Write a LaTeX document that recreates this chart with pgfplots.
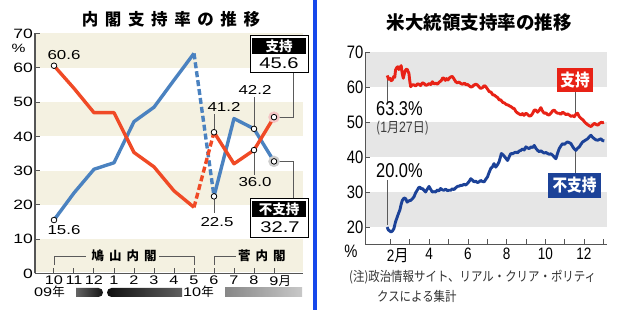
\documentclass[border=0pt]{standalone}
\usepackage{fontspec}
\usepackage{pgfplots}
\pgfplotsset{compat=1.18}
\setmainfont{Liberation Sans}
\newfontfamily\lfont[FakeStretch=1.3]{Liberation Sans}
\newfontfamily\rfont[FakeStretch=0.82]{Liberation Sans}
\newfontfamily\cjk{Noto Sans CJK JP}
\newfontfamily\cjkn[FakeStretch=0.86]{Noto Sans CJK JP}
\newfontfamily\cjksp[LetterSpace=40]{Noto Sans CJK JP}
\newfontfamily\cjkspb[LetterSpace=40]{Noto Sans CJK JP}
\newcommand{\Lf}[1]{\fontsize{#1}{#1}\selectfont\lfont}
\newcommand{\Rf}[1]{\fontsize{#1}{#1}\selectfont\rfont}
\newcommand{\Cf}[1]{\fontsize{#1}{#1}\selectfont\cjk}
\newcommand{\Cn}[1]{\fontsize{#1}{#1}\selectfont\cjkn}
\definecolor{lred}{RGB}{240,74,38}
\definecolor{lblue}{RGB}{74,130,192}
\definecolor{beige}{RGB}{244,241,225}
\definecolor{rred}{RGB}{232,34,22}
\definecolor{rblue}{RGB}{28,66,152}
\definecolor{band}{RGB}{230,230,230}
\definecolor{sep}{RGB}{22,72,235}
\definecolor{axgray}{RGB}{85,85,85}
\definecolor{lead}{RGB}{90,90,90}
\definecolor{halopink}{RGB}{246,196,196}
\definecolor{halogray}{RGB}{205,205,205}
\begin{document}
\begin{tikzpicture}[x=1pt,y=1pt]
\path[use as bounding box] (0,0) rectangle (630,310);
\fill[white] (0,0) rectangle (630,310);

% ================= LEFT CHART =================
\begin{axis}[
 at={(35pt,36.5pt)}, anchor=south west, scale only axis,
 width=268pt, height=240pt,
 xmin=-0.95, xmax=12.45, ymin=0, ymax=70,
 axis x line*=bottom, axis y line*=left,
 axis line style={-, draw=axgray, line width=1.3pt},
 axis on top,
 xtick={0,...,11},
 xticklabels={10,11,12,1,2,3,4,5,6,7,8,9\rlap{\cjk 月}},
 ytick={0,10,20,30,40,50,60,70},
 yticklabels={0,10,20,30,40,50,60,70},
 tick align=inside, major tick length=5pt,
 tick style={axgray, line width=1pt},
 xticklabel style={font=\Lf{12.5}, inner sep=2pt},
 yticklabel style={font=\Lf{13.5}, inner sep=2pt},
 clip=false,
]
\fill[beige] (axis cs:-0.9,0.4) rectangle (axis cs:12.45,10);
\fill[beige] (axis cs:-0.9,20) rectangle (axis cs:12.45,30);
\fill[beige] (axis cs:-0.9,40) rectangle (axis cs:12.45,50);
\fill[beige] (axis cs:-0.9,60) rectangle (axis cs:12.45,70);
% leaders
\draw[lead, line width=0.8pt] (axis cs:8,41.2) -- (axis cs:8,46.4);
\draw[lead, line width=0.8pt] (axis cs:8,22.5) -- (axis cs:8,17.6);
\draw[lead, line width=0.8pt] (axis cs:10,42.2) -- (axis cs:10,51.5);
\draw[lead, line width=0.8pt] (axis cs:10,36.0) -- (axis cs:10,28.6);
\draw[lead, line width=0.8pt] (axis cs:11,45.6) -- (axis cs:11.95,45.6) -- (axis cs:11.95,58.7);
\draw[lead, line width=0.8pt] (axis cs:11,32.7) -- (axis cs:11.95,32.7) -- (axis cs:11.95,22.0);
% blue (disapproval)
\addplot[lblue, line width=3.4pt, line join=round] coordinates {(0,15.6)(1,23.5)(2,30.4)(3,32.3)(4,44.3)(5,48.5)(6,56.4)(7,64.2)};
\addplot[lblue, line width=3.4pt, dash pattern=on 6pt off 3pt] coordinates {(7,64.2)(8,22.5)};
\addplot[lblue, line width=3.4pt, line join=round] coordinates {(8,22.5)(9,45.2)(10,42.2)(11,32.7)};
% red (approval)
\addplot[lred, line width=3.4pt, line join=round] coordinates {(0,60.6)(1,54.0)(2,46.9)(3,46.9)(4,35.3)(5,31.1)(6,24.1)(7,19.3)};
\addplot[lred, line width=3.4pt, dash pattern=on 6pt off 3pt] coordinates {(7,19.3)(8,41.2)};
\addplot[lred, line width=3.4pt, line join=round] coordinates {(8,41.2)(9,32.0)(10,36.0)(11,45.6)};
% halos
\addplot[halopink, only marks, mark=*, mark size=5.5pt] coordinates {(11,45.6)};
\addplot[halogray, only marks, mark=*, mark size=5.5pt] coordinates {(11,32.7)};
% markers
\addplot[black, only marks, mark=*, mark size=2.8pt, mark options={fill=white, draw=black, line width=0.8pt}] coordinates {(0,60.6)(8,41.2)(10,36.0)(11,45.6)};
\addplot[black, only marks, mark=*, mark size=2.8pt, mark options={fill=white, draw=black, line width=0.8pt}] coordinates {(0,15.6)(8,22.5)(10,42.2)(11,32.7)};
% value labels
\node[font=\Lf{13}] at (axis cs:0.5,63.6) {60.6};
\node[font=\Lf{13}] at (axis cs:0.5,12.7) {15.6};
\node[font=\Lf{13}] at (axis cs:8.5,48.6) {41.2};
\node[font=\Lf{13}] at (axis cs:8.15,15.1) {22.5};
\node[font=\Lf{13}] at (axis cs:10.05,53.6) {42.2};
\node[font=\Lf{13}] at (axis cs:10.05,26.6) {36.0};
\end{axis}

% left title
\node[font={\fontsize{16.5}{16.5}\selectfont\cjksp\bfseries}] at (171,291) {内閣支持率の推移};
% percent sign
\node[font=\Lf{12}] at (18.5,262) {\%};
% approval box
\draw[black, line width=0.8pt, fill=white] (250,238) rectangle (308,275);
\fill[black] (252,256) rectangle (306,272);
\node[text=white, font={\Cf{13.5}\bfseries}] at (279,264) {支持};
\node[font=\Lf{15.5}] at (279,247) {45.6};
% disapproval box
\draw[black, line width=0.8pt, fill=white] (250,73) rectangle (308,112);
\fill[black] (252,93) rectangle (306,109);
\node[text=white, font={\Cf{13.5}\bfseries}] at (279,101) {不支持};
\node[font=\Lf{15.5}] at (280,83) {32.7};
% cabinet brackets
\draw[lead, line width=0.9pt] (54,45) -- (54,54) -- (86,54);
\draw[lead, line width=0.9pt] (159,54) -- (194,54) -- (194,45);
\node[font={\fontsize{12.5}{12.5}\selectfont\cjkspb\bfseries}, inner sep=0] at (124,54) {鳩山内閣};
\draw[lead, line width=0.9pt] (214,45) -- (214,54) -- (236,54);
\node[font={\fontsize{12.5}{12.5}\selectfont\cjkspb\bfseries}, inner sep=0, anchor=west] at (238,54) {菅内閣};
% year bars
\node[anchor=west, inner sep=0] at (34,18) {{\Lf{12.5}09}{\Cf{12.5}年}};
\node[anchor=west, inner sep=0] at (183,18) {{\Lf{12.5}10}{\Cf{12.5}年}};
\shade[left color={rgb,255:red,100;green,100;blue,100}, right color={rgb,255:red,20;green,20;blue,20}] (76,13) -- (98.5,13) arc[start angle=-90, end angle=90, radius=4.5] -- (76,22) -- cycle;
\shade[left color={rgb,255:red,15;green,15;blue,15}, right color={rgb,255:red,95;green,95;blue,95}] (111.5,13) -- (182,13) -- (182,22) -- (111.5,22) arc[start angle=90, end angle=270, radius=4.5] -- cycle;
\shade[left color={rgb,255:red,135;green,135;blue,135}, right color={rgb,255:red,200;green,200;blue,200}] (225,13) rectangle (302,22);

% separator
\fill[sep] (313,0) rectangle (317,310);

% ================= RIGHT CHART =================
\begin{axis}[
 at={(365pt,65.5pt)}, anchor=south west, scale only axis,
 width=242pt, height=192.5pt,
 xmin=0.68, xmax=13.19, ymin=15, ymax=70,
 axis x line*=bottom, axis y line*=left,
 axis line style={-, draw=axgray, line width=1pt},
 axis on top,
 xtick={2,...,13},
 xticklabels={2\rlap{\cjkn 月},,4,,6,,8,,10,,12,},
 ytick={20,30,40,50,60,70},
 yticklabels={20,30,40,50,60,70},
 tick align=inside, major tick length=5pt,
 tick style={axgray, line width=0.8pt},
 xticklabel style={font=\Rf{16.5}},
 yticklabel style={font=\Rf{18}, inner sep=1.5pt},
 clip=false,
]
\fill[band] (axis cs:0.72,20) rectangle (axis cs:13.19,30);
\fill[band] (axis cs:0.72,40) rectangle (axis cs:13.19,50);
\fill[band] (axis cs:0.72,60) rectangle (axis cs:13.19,70);
% leaders
\draw[lead, line width=0.7pt] (axis cs:1.83,62.8) -- (axis cs:1.83,55.8);
\draw[lead, line width=0.7pt] (axis cs:1.83,20.5) -- (axis cs:1.83,33.4);
\draw[lead, line width=0.7pt] (axis cs:11.53,52.0) -- (axis cs:11.53,58.6);
\draw[lead, line width=0.7pt] (axis cs:11.53,42.0) -- (axis cs:11.53,35.4);
% approval
\addplot[rred, line width=2.9pt, line join=round] coordinates {
(1.83,63.3)(1.90,62.2)(1.97,62.5)(2.03,61.8)(2.09,62.0)(2.17,63.0)(2.22,62.8)(2.26,64.9)(2.32,65.5)(2.38,65.8)(2.43,65.0)(2.48,65.5)(2.55,66.1)(2.60,64.0)(2.66,62.5)(2.70,63.5)(2.74,64.4)(2.80,65.0)(2.86,65.1)(2.90,64.5)(2.95,63.9)(3.00,61.5)(3.04,60.1)(3.12,60.6)(3.21,60.6)(3.30,60.3)(3.40,60.9)(3.47,60.8)(3.55,60.4)(3.65,61.2)(3.73,61.0)(3.82,60.5)(3.90,60.6)(4.00,61.0)(4.08,60.7)(4.16,61.5)(4.25,60.9)(4.33,61.1)(4.42,60.8)(4.52,61.4)(4.62,61.8)(4.70,62.6)(4.76,62.5)(4.83,61.9)(4.90,62.4)(4.97,62.0)(5.05,62.6)(5.12,62.9)(5.20,63.0)(5.28,62.3)(5.37,61.5)(5.45,61.2)(5.55,61.4)(5.63,61.0)(5.72,60.8)(5.82,61.1)(5.90,60.6)(5.97,60.8)(6.05,60.4)(6.15,60.0)(6.23,60.1)(6.30,60.5)(6.40,60.8)(6.49,60.6)(6.58,60.0)(6.66,59.6)(6.75,59.8)(6.85,60.4)(6.92,60.1)(7.00,59.5)(7.10,58.7)(7.20,58.5)(7.28,57.8)(7.36,57.7)(7.45,57.3)(7.55,56.9)(7.62,56.3)(7.70,56.3)(7.80,55.6)(7.90,55.4)(7.98,55.0)(8.05,54.9)(8.15,54.6)(8.25,54.3)(8.33,53.9)(8.39,53.9)(8.48,53.0)(8.56,52.6)(8.65,52.3)(8.74,52.0)(8.82,52.4)(8.90,51.9)(9.00,52.5)(9.08,52.2)(9.17,51.7)(9.26,51.8)(9.35,52.5)(9.43,53.4)(9.51,53.4)(9.60,52.8)(9.68,53.3)(9.77,54.1)(9.85,53.2)(9.94,52.5)(10.03,52.6)(10.12,52.1)(10.20,52.0)(10.30,52.6)(10.38,53.2)(10.46,53.4)(10.55,52.8)(10.64,52.5)(10.72,52.5)(10.80,52.2)(10.90,52.8)(10.98,52.5)(11.07,52.1)(11.15,52.3)(11.24,52.0)(11.33,51.6)(11.42,51.8)(11.50,51.5)(11.58,52.2)(11.67,52.5)(11.76,51.5)(11.85,51.0)(11.95,50.6)(12.03,50.0)(12.11,49.6)(12.20,49.2)(12.28,48.9)(12.37,48.7)(12.45,49.2)(12.54,49.6)(12.62,49.3)(12.72,49.1)(12.80,49.6)(12.89,49.9)(12.96,49.8)(13.03,49.9)};
% disapproval
\addplot[rblue, line width=2.9pt, line join=round] coordinates {
(1.83,20.0)(1.88,19.2)(1.95,18.9)(2.02,18.6)(2.09,18.8)(2.17,19.5)(2.26,21.5)(2.35,22.9)(2.42,24.0)(2.48,24.8)(2.55,26.5)(2.61,27.6)(2.70,28.3)(2.78,28.1)(2.86,27.1)(2.95,27.5)(3.04,27.6)(3.12,28.0)(3.21,28.6)(3.30,29.8)(3.38,30.5)(3.45,31.2)(3.52,31.4)(3.58,30.9)(3.64,31.0)(3.73,30.5)(3.81,30.0)(3.90,30.8)(3.99,31.6)(4.07,30.8)(4.16,30.0)(4.25,30.1)(4.33,30.0)(4.42,30.6)(4.50,30.3)(4.59,31.0)(4.68,30.6)(4.76,30.5)(4.85,30.8)(4.94,30.4)(5.02,30.5)(5.11,30.5)(5.20,30.9)(5.28,30.7)(5.37,31.2)(5.46,31.6)(5.55,31.7)(5.63,31.9)(5.71,31.9)(5.80,32.2)(5.89,32.0)(5.97,32.4)(6.06,33.0)(6.15,33.8)(6.23,33.4)(6.32,32.9)(6.40,33.1)(6.49,32.7)(6.58,32.9)(6.66,33.3)(6.75,33.0)(6.84,32.9)(6.92,33.6)(7.01,34.3)(7.09,35.5)(7.18,36.7)(7.27,37.2)(7.35,38.1)(7.44,37.1)(7.53,37.8)(7.61,38.6)(7.68,40.0)(7.73,41.0)(7.82,40.6)(7.91,40.0)(7.98,39.5)(8.05,39.0)(8.13,40.0)(8.22,41.0)(8.30,40.9)(8.39,41.2)(8.48,41.4)(8.56,41.2)(8.65,41.7)(8.74,41.9)(8.82,42.3)(8.91,42.0)(9.00,42.9)(9.08,42.6)(9.17,42.4)(9.26,42.9)(9.34,42.7)(9.43,43.3)(9.51,42.5)(9.60,41.9)(9.69,41.5)(9.77,41.8)(9.86,41.4)(9.95,41.1)(10.03,41.3)(10.12,41.0)(10.20,40.8)(10.29,40.9)(10.38,40.5)(10.46,40.0)(10.55,39.5)(10.63,41.0)(10.72,42.4)(10.81,43.2)(10.89,43.8)(10.98,43.6)(11.07,44.0)(11.15,44.3)(11.24,44.1)(11.33,43.8)(11.41,43.0)(11.50,42.3)(11.58,41.9)(11.67,42.5)(11.76,42.9)(11.84,43.6)(11.93,44.3)(12.02,44.6)(12.10,44.9)(12.19,45.2)(12.28,45.8)(12.36,46.2)(12.45,45.6)(12.54,45.2)(12.62,44.9)(12.71,44.8)(12.80,45.0)(12.88,45.2)(12.96,44.7)(13.05,44.6)};
\end{axis}

% right title
\node[font={\Cf{18.5}\bfseries}] at (479,287) {米大統領支持率の推移};
% percent
\node[font=\Rf{18}] at (351,59) {\%};
% labels
\node[anchor=west, inner sep=0, font=\Rf{20}] at (376,201.5) {63.3\%};
\node[anchor=west, inner sep=0, text={rgb,255:red,60;green,60;blue,60}] at (376,181.5) {{\Cn{14}(}{\Rf{15}1}{\Cn{14}月}{\Rf{15}27}{\Cn{14}日)}};
\node[anchor=west, inner sep=0, font=\Rf{20}] at (376,139.5) {20.0\%};
% boxes
\fill[rred] (557,218) rectangle (593,242);
\node[text=white, font={\Cn{17}\bfseries}] at (575,230) {支持};
\fill[rblue] (548,112) rectangle (601,137);
\node[text=white, font={\Cn{17}\bfseries}] at (574.5,124.5) {不支持};
% note
\node[anchor=west, inner sep=0, text={rgb,255:red,50;green,50;blue,50}, font=\Cn{13.3}] at (349,32.5) {(注)政治情報サイト、リアル・クリア・ポリティ};
\node[anchor=west, inner sep=0, text={rgb,255:red,50;green,50;blue,50}, font=\Cn{13.3}] at (377,13.5) {クスによる集計};
\end{tikzpicture}
\end{document}
